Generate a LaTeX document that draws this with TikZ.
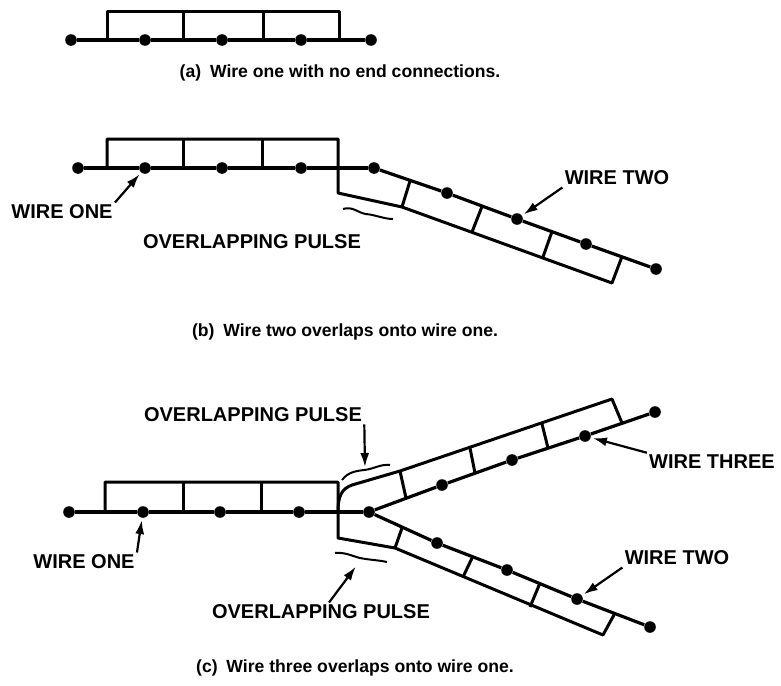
\documentclass[tikz,border=0pt]{standalone}
\usepackage{fontspec}
\setmainfont{Liberation Sans}
\usetikzlibrary{arrows.meta}

\tikzset{
  dot/.style={circle, fill, inner sep=0pt, minimum size=5.8pt},
  wire/.style={line width=1.6pt, line join=round},
  pulse/.style={line width=1.5pt, line join=round},
  squiggle/.style={line width=1pt},
  tag/.style={font=\bfseries\fontsize{10}{12}\selectfont, inner sep=1pt},
  caption/.style={font=\bfseries\fontsize{8.8}{10}\selectfont, inner sep=1pt},
  pointer/.style={line width=1.1pt, -{Latex[length=7pt,width=4.5pt]}, shorten >=1pt},
}

\begin{document}
\begin{tikzpicture}[x=0.5pt, y=-0.5pt]

% Fix the page to the size of the figure
\useasboundingbox (0,0) rectangle (781,685);

% ---------- (a) wire one alone ----------
% Dots on wire one
\node[dot] (a0) at (71,40) {};
\node[dot] (a1) at (145,40) {};
\node[dot] (a2) at (222,40) {};
\node[dot] (a3) at (301,40) {};
\node[dot] (a4) at (371,40) {};

% Draw wire one
\draw[wire] (a0) -- (a1) -- (a2) -- (a3) -- (a4);

% Draw the pulse boxes above it
\draw[pulse] (107,40) -- (107,11) -- (339,11) -- (339,40);
\draw[pulse] (183,40) -- (183,11);
\draw[pulse] (263,40) -- (263,11);

\node[caption] (capa) at (340,73) {(a)\enspace Wire one with no end connections.};

% ---------- (b) wire two overlaps ----------
% Dots on wire one
\node[dot] (b0) at (78,168) {};
\node[dot] (b1) at (145,168) {};
\node[dot] (b2) at (222,168) {};
\node[dot] (b3) at (301,168) {};
\node[dot] (b4) at (374,168) {};
% Dots on wire two
\node[dot] (b5) at (447,193) {};
\node[dot] (b6) at (517,219) {};
\node[dot] (b7) at (586,244) {};
\node[dot] (b8) at (656,269) {};

% Draw both wires
\draw[wire] (b0) -- (b1) -- (b2) -- (b3) -- (b4);
\draw[wire] (b4) -- (b5) -- (b6) -- (b7) -- (b8);

% Boxes on wire one, then the bent box of wire two
\draw[pulse] (107,168) -- (107,139) -- (338,139) -- (338,193)
  -- (402,207) -- (612,283) -- (622,256.5);
\draw[pulse] (183,168) -- (183,139);
\draw[pulse] (262,168) -- (262,139);
\draw[pulse] (410,181) -- (402,207);
\draw[pulse] (482,206.5) -- (472,232);
\draw[pulse] (552,231.5) -- (543,257);

% Squiggle under the overlap
\draw[squiggle] (343,209) .. controls (353,206) and (358,213) .. (366,214)
  .. controls (376,215) and (384,219) .. (393,219);

% Labels
\node[tag] (oneb) at (62,212) {WIRE ONE};
\node[tag] (pulseb) at (252,242) {OVERLAPPING PULSE};
\node[tag] (twob) at (617,178) {WIRE TWO};
\draw[pointer] (oneb.north east) -- (b1);
\draw[pointer] (twob.south west) -- (b6);

\node[caption] (capb) at (345,332) {(b)\enspace Wire two overlaps onto wire one.};

% ---------- (c) wire three overlaps ----------
% Dots on wire one
\node[dot] (c0) at (69,512) {};
\node[dot] (c1) at (143,512) {};
\node[dot] (c2) at (220,512) {};
\node[dot] (c3) at (299,512) {};
\node[dot] (c4) at (369,512) {};
% Dots on wire two (lower branch)
\node[dot] (c5) at (437,543) {};
\node[dot] (c6) at (507,570) {};
\node[dot] (c7) at (577,599) {};
\node[dot] (c8) at (650,627) {};
% Dots on wire three (upper branch)
\node[dot] (c9) at (442,485) {};
\node[dot] (c10) at (512,460) {};
\node[dot] (c11) at (585,436) {};
\node[dot] (c12) at (655,412) {};

% Draw the three wires
\draw[wire] (c0) -- (c1) -- (c2) -- (c3) -- (c4);
\draw[wire] (c4) -- (c5) -- (c6) -- (c7) -- (c8);
\draw[wire] (c4) -- (c9) -- (c10) -- (c11) -- (c12);

% Boxes on wire one with the bent box of wire two
\draw[pulse] (105,512) -- (105,482) -- (338,482) -- (338,538)
  -- (395,548) -- (603,635) -- (615,613);
\draw[pulse] (183,512) -- (183,482);
\draw[pulse] (261,512) -- (261,482);
\draw[pulse] (402,528) -- (395,548);
\draw[pulse] (473,556) -- (463,577);
\draw[pulse] (540,583) -- (530,607);

% Bent box of wire three
\draw[pulse] (338,512) .. controls (338,497) and (341,489) .. (352,485)
  -- (400,471) -- (612,399) -- (622,423);
\draw[pulse] (406,498) -- (400,471);
\draw[pulse] (475,473) -- (470,448);
\draw[pulse] (548,448) -- (542,424);

% Squiggles over and under the overlaps
\draw[squiggle] (342,480) .. controls (348,472) and (356,471) .. (364,470)
  .. controls (374,469) and (380,464) .. (390,465);
\draw[squiggle] (335,553) .. controls (345,552) and (352,556) .. (360,558)
  .. controls (370,560) and (378,560) .. (387,562);
\coordinate (toppulse) at (365,469);
\coordinate (botpulse) at (357,565);

% Labels
\node[tag] (pulsec) at (253,415) {OVERLAPPING PULSE};
\node[tag] (pulsed) at (321,612) {OVERLAPPING PULSE};
\node[tag] (onec) at (84,562) {WIRE ONE};
\node[tag] (twoc) at (677,558) {WIRE TWO};
\node[tag] (threec) at (712,462) {WIRE THREE};
\draw[pointer] (pulsec.south east) -- (toppulse);
\draw[pointer] ([xshift=4pt]pulsed.north) -- (botpulse);
\draw[pointer] (onec.north east) -- (c1);
\draw[pointer] (twoc.south west) -- (c7);
\draw[pointer] (threec.north west) -- (c11);

\node[caption] (capc) at (355,668) {(c)\enspace Wire three overlaps onto wire one.};

\end{tikzpicture}
\end{document}
